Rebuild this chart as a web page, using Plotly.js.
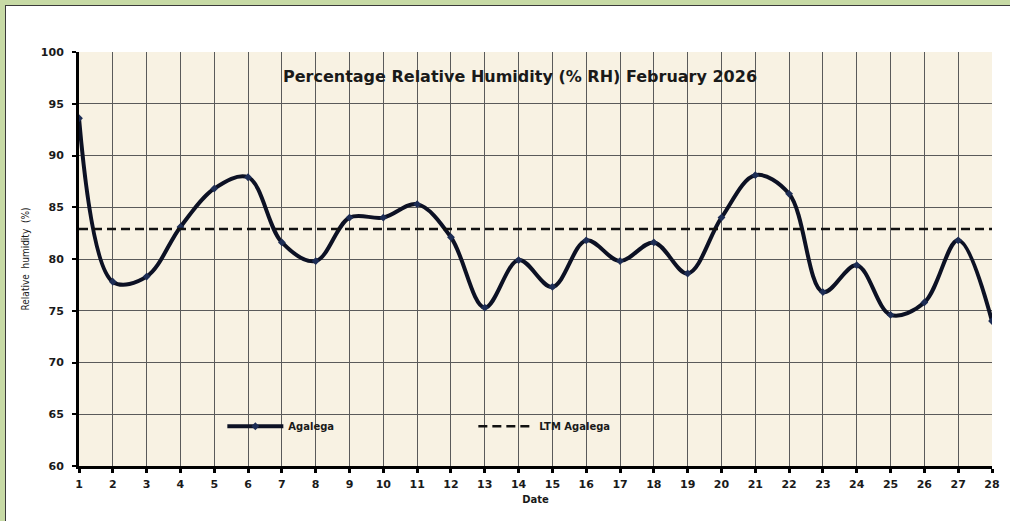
<!DOCTYPE html>
<html>
<head>
<meta charset="utf-8">
<script src="https://cdn.plot.ly/plotly-3.0.1.min.js"></script>
<style>
  html, body { margin:0; padding:0; width:1010px; height:521px; overflow:hidden; background:#c7daa5; }
  #frame { position:absolute; left:5px; top:5px; width:1005px; height:516px; background:#ffffff;
           border-top:1.5px solid #3a3a3a; border-left:1.5px solid #3a3a3a; box-sizing:border-box; }
  #chart { position:absolute; left:0; top:0; width:1003px; height:514px; }
</style>
</head>
<body>
<div id="frame"><div id="chart"></div></div>
<script>
const days = [1,2,3,4,5,6,7,8,9,10,11,12,13,14,15,16,17,18,19,20,21,22,23,24,25,26,27,28];
const agalega = [93.6,77.8,78.3,83.1,86.8,87.9,81.6,79.8,84.0,84.0,85.3,82.1,75.3,79.9,77.3,81.8,79.8,81.6,78.6,84.0,88.1,86.3,76.8,79.4,74.6,75.8,81.8,74.0];
const ltmValue = 82.9;
const ltmAgalega = days.map(() => ltmValue);
const yTicks = [60,65,70,75,80,85,90,95,100];

const tickFont = {family:'DejaVu Sans, Verdana, sans-serif', size:11, color:'#1a1a1a', weight:'bold'};

const traces = [
  {x: days, y: agalega, name: 'Agalega', type:'scatter', mode:'lines+markers',
   line:{color:'#0c1124', width:4, shape:'spline', smoothing:1},
   marker:{symbol:'diamond', size:6, color:'#1d2d55'}},
  {x: days, y: ltmAgalega, name: 'LTM Agalega', type:'scatter', mode:'lines',
   line:{color:'#111111', width:2.5, dash:'9px,5px'}}
];

const layout = {
  width:1003, height:514,
  margin:{l:73, r:17, t:46, b:54},
  paper_bgcolor:'#ffffff',
  plot_bgcolor:'#f8f2e3',
  showlegend:true,
  title:{text:'Percentage Relative Humidity (% RH) February 2026',
         font:{family:'DejaVu Sans, Verdana, sans-serif', size:16, color:'#1a1a1a', weight:'bold'},
         xref:'paper', x:0.483, xanchor:'center', yref:'container', y:0.864, yanchor:'middle'},
  xaxis:{range:[1,28], tickvals:days, ticktext:days.map(String),
         showgrid:true, gridcolor:'#5a5a5a', gridwidth:1,
         showline:true, linecolor:'#000', linewidth:3, zeroline:false,
         ticks:'outside', ticklen:4, tickwidth:3, tickcolor:'#000',
         tickfont:tickFont, ticklabelstandoff:2,
         title:{text:'Date', font:{family:'DejaVu Sans, Verdana, sans-serif', size:10, color:'#1a1a1a', weight:'bold'}, standoff:6}},
  yaxis:{range:[60,100], tickvals:yTicks, ticktext:yTicks.map(String),
         showgrid:true, gridcolor:'#5a5a5a', gridwidth:1,
         showline:true, linecolor:'#000', linewidth:3, zeroline:false,
         ticks:'outside', ticklen:4, tickwidth:2, tickcolor:'#000',
         tickfont:tickFont, ticklabelstandoff:6,
         title:{text:'Relative  humidity  (%)', font:{family:'Liberation Sans Narrow, Arial Narrow, DejaVu Sans Condensed, sans-serif', size:10, color:'#1a1a1a'}, standoff:10}},
  legend:{orientation:'h', x:0.157, xanchor:'left', y:0.096, yanchor:'middle',
          bgcolor:'rgba(0,0,0,0)', entrywidth:180, entrywidthmode:'pixels', itemwidth:56,
          font:{family:'DejaVu Sans, Verdana, sans-serif', size:10, color:'#1a1a1a', weight:'bold'}}
};

Plotly.newPlot('chart', traces, layout, {displayModeBar:false, staticPlot:true});
</script>
</body>
</html>
